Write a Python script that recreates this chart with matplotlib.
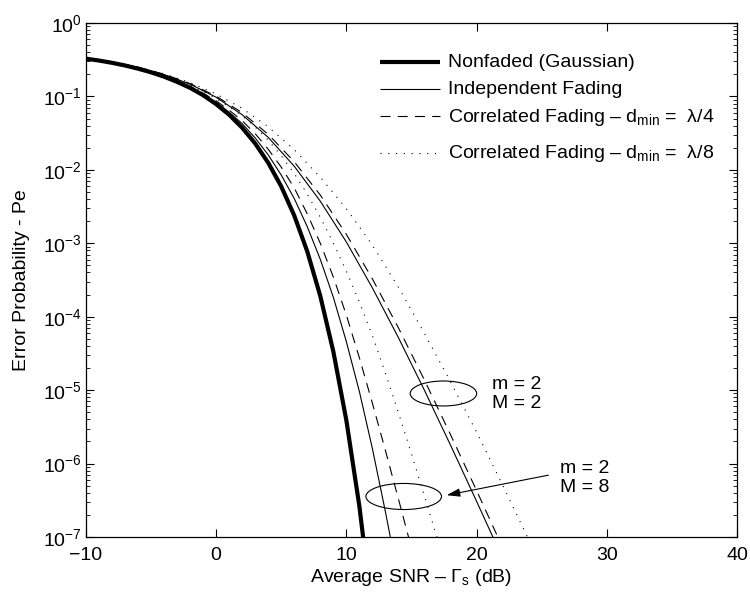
import matplotlib
matplotlib.use("Agg")
import matplotlib.pyplot as plt
from matplotlib.patches import Ellipse
from matplotlib.ticker import LogLocator, NullFormatter, LogFormatterSciNotation

plt.rcParams['font.family'] = ['Liberation Sans', 'DejaVu Sans']
plt.rcParams['mathtext.fontset'] = 'custom'
plt.rcParams['mathtext.rm'] = 'Liberation Sans'
plt.rcParams['mathtext.it'] = 'Liberation Sans:italic'
plt.rcParams['mathtext.sf'] = 'Liberation Sans'
plt.rcParams['mathtext.bf'] = 'Liberation Sans:bold'

# ---------------- data ----------------
snr_gauss = list(range(-10, 13))
pe_gauss = [0.327, 0.308, 0.287, 0.264, 0.239, 0.213, 0.186, 0.158, 0.131, 0.104,
            0.0786, 0.0563, 0.0375, 0.0229, 0.0125, 0.00595, 0.00239, 7.73e-4,
            1.91e-4, 3.36e-5, 3.87e-6, 2.61e-7, 9.0e-9]

# M = 2 branches (2 dB steps)
snr_m2 = list(range(-10, 23, 2))
pe_m2_indep = [0.333, 0.294, 0.249, 0.199, 0.147, 0.0975, 0.0564, 0.0277, 0.0112,
               3.74e-3, 1.04e-3, 2.46e-4, 5.16e-5, 9.87e-6, 1.77e-6, 3.04e-7, 5.07e-8]
pe_m2_l4 = [0.3334, 0.2951, 0.2506, 0.2009, 0.1496, 0.1009, 0.0600, 0.0305, 0.0129,
            4.53e-3, 1.32e-3, 3.27e-4, 7.02e-5, 1.36e-5, 2.46e-6, 4.26e-7, 7.13e-8]
snr_m2_l8 = list(range(-10, 25, 2))
pe_m2_l8 = [0.3334, 0.2951, 0.2512, 0.2032, 0.1542, 0.1079, 0.0687, 0.0386, 0.0188,
            7.94e-3, 2.95e-3, 9.42e-4, 2.51e-4, 5.89e-5, 1.29e-5, 2.66e-6, 5.06e-7, 9.12e-8]

# M = 8 branches (1 dB steps)
snr_m8_indep = list(range(-10, 15))
pe_m8_indep = [0.3289, 0.3090, 0.2884, 0.2661, 0.2415, 0.2163, 0.1897, 0.1622, 0.1349,
               0.1079, 0.0834, 0.0610, 0.0427, 0.0272, 0.0160, 8.51e-3, 4.07e-3, 1.68e-3,
               6.04e-4, 1.84e-4, 4.57e-5, 9.55e-6, 1.59e-6, 2.19e-7, 2.63e-8]
snr_m8_l4 = list(range(-10, 16))
pe_m8_l4 = [0.3311, 0.3105, 0.2897, 0.2679, 0.2438, 0.2188, 0.1923, 0.1648, 0.1374,
            0.1109, 0.0871, 0.0650, 0.0468, 0.0311, 0.0191, 0.0109, 5.68e-3, 2.51e-3,
            1.0e-3, 3.47e-4, 1.05e-4, 2.75e-5, 6.61e-6, 1.50e-6, 3.27e-7, 7.0e-8]
snr_m8_l8 = list(range(-10, 18))
pe_m8_l8 = [0.3304, 0.3097, 0.2897, 0.2679, 0.2449, 0.2208, 0.1954, 0.1690, 0.1432,
            0.1169, 0.0935, 0.0723, 0.0543, 0.0383, 0.0254, 0.0156, 8.91e-3, 4.68e-3,
            2.26e-3, 1.01e-3, 4.17e-4, 1.58e-4, 5.50e-5, 1.70e-5, 4.90e-6, 1.35e-6,
            3.59e-7, 9.3e-8]

legend_labels = ["Nonfaded (Gaussian)",
                 "Independent Fading",
                 "Correlated Fading – d$_{\\mathrm{min}}$ =  λ/4",
                 "Correlated Fading – d$_{\\mathrm{min}}$ =  λ/8"]

x_ticks = [-10, 0, 10, 20, 30, 40]

# annotation groups: (center dB, center Pe, width dB, height decades)
ellipse_m2 = (17.45, 9.0e-6, 5.1, 0.34)
ellipse_m8 = (14.4, 3.56e-7, 5.8, 0.355)
label_m2 = ("m = 2\nM = 2", 21.2, 8.8e-6)
label_m8 = ("m = 2\nM = 8", 26.4, 6.43e-7)
arrow_tail = (25.5, 6.95e-7)
arrow_head = (17.7, 3.71e-7)

FS = 14

# ---------------- figure ----------------
fig = plt.figure(figsize=(7.5, 5.95), dpi=100)
ax = fig.add_axes([0.1143, 0.0975, 0.8688, 0.8639])

thin = 0.8
thick = 3.0
dash = (0, (9, 6.5))
dot = (0, (1, 6))

ax.semilogy(snr_gauss, pe_gauss, color='k', lw=thick, solid_capstyle='butt')
ax.semilogy(snr_m2, pe_m2_indep, color='k', lw=thin)
ax.semilogy(snr_m8_indep, pe_m8_indep, color='k', lw=thin)
ax.semilogy(snr_m2, pe_m2_l4, color='k', lw=thin, ls=dash)
ax.semilogy(snr_m8_l4, pe_m8_l4, color='k', lw=thin, ls=dash)
ax.semilogy(snr_m2_l8, pe_m2_l8, color='k', lw=thin, ls=dot)
ax.semilogy(snr_m8_l8, pe_m8_l8, color='k', lw=thin, ls=dot)

ax.set_xlim(-10, 40)
ax.set_ylim(1e-7, 1)
ax.set_xticks(x_ticks)
ax.set_xticklabels([f"{t:d}".replace('-', '\u2212') for t in x_ticks])
ax.yaxis.set_major_locator(LogLocator(base=10, numticks=12))
ax.yaxis.set_major_formatter(LogFormatterSciNotation())
ax.yaxis.set_minor_locator(LogLocator(base=10, subs=range(2, 10), numticks=100))
ax.yaxis.set_minor_formatter(NullFormatter())
ax.tick_params(which='both', direction='in', top=True, right=True, labelsize=FS, color='k')
ax.tick_params(which='major', length=6, width=0.8)
ax.tick_params(which='minor', length=3, width=0.6)
ax.tick_params(axis='x', pad=7)
ax.tick_params(axis='y', pad=3)
for s in ax.spines.values():
    s.set_linewidth(0.9)

ax.set_xlabel("Average SNR – $\\Gamma_{\\mathrm{s}}$ (dB)", fontsize=FS)
ax.set_ylabel("Error Probability - Pe", fontsize=FS)
ax.xaxis.set_label_coords(0.5, -0.058)
ax.yaxis.set_label_coords(-0.086, 0.5)

# legend, laid out row by row like the original (axes fractions)
leg_styles = [dict(lw=thick), dict(lw=thin), dict(lw=thin, ls=dash), dict(lw=thin, ls=dot)]
leg_rows_y = [0.9241, 0.8716, 0.8181, 0.7471]
leg_x0, leg_x1, leg_tx = 0.4517, 0.5437, 0.5557
for yy, st, lab in zip(leg_rows_y, leg_styles, legend_labels):
    ax.plot([leg_x0, leg_x1], [yy, yy], color='k', transform=ax.transAxes,
            solid_capstyle='butt', **st)
    ax.text(leg_tx, yy - 0.0105, lab, transform=ax.transAxes, fontsize=FS,
            ha='left', va='baseline')

# ellipses (converted from data units to axes fractions)
def add_ellipse(spec):
    cx, cy, wdb, hdec = spec
    px, py = ax.transAxes.inverted().transform(ax.transData.transform((cx, cy)))
    w = wdb / (40 - (-10))
    h = hdec / 7.0
    ax.add_patch(Ellipse((px, py), w, h, transform=ax.transAxes, fill=False,
                         edgecolor='k', lw=0.8))

add_ellipse(ellipse_m2)
add_ellipse(ellipse_m8)

for txt, x, y in (label_m2, label_m8):
    ax.text(x, y, txt, fontsize=FS, ha='left', va='center', linespacing=1.15)

ax.annotate('', xy=arrow_head, xytext=arrow_tail,
            arrowprops=dict(arrowstyle='-|>,head_length=0.8,head_width=0.25',
                            color='k', lw=0.8, shrinkA=0, shrinkB=0))

fig.savefig("out.png", dpi=100)
